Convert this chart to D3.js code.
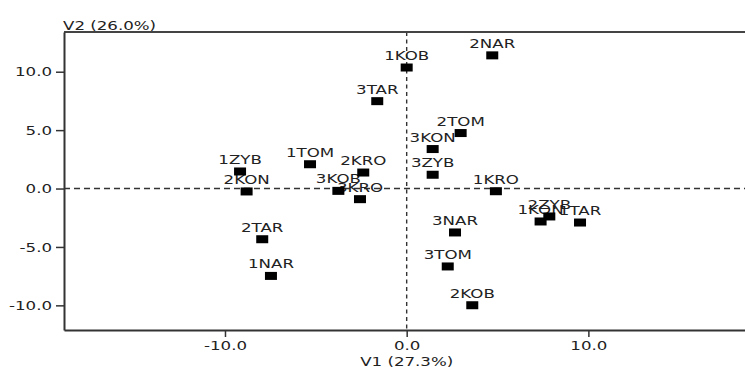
<!DOCTYPE html>
<html>
<head>
<meta charset="utf-8">
<script src="https://cdn.jsdelivr.net/npm/d3@7"></script>
<style>
  body { margin: 0; background: #fff; }
  text { font-family: "DejaVu Sans", sans-serif; font-size: 13px; fill: #222; }
</style>
</head>
<body>
<div id="chart"></div>
<script>
// DATA
const labels = ["1KOB", "2NAR", "3TAR", "2TOM", "3KON", "3ZYB", "1KRO", "1KON", "2ZYB", "1TAR",
                "3NAR", "3TOM", "2KOB", "1ZYB", "2KON", "1TOM", "2KRO", "3KOB", "3KRO", "2TAR", "1NAR"];
const v1 = [0.0, 4.71, -1.62, 2.97, 1.43, 1.43, 4.91, 7.37, 7.85, 9.54,
            2.66, 2.26, 3.61, -9.17, -8.81, -5.32, -2.39, -3.76, -2.57, -7.95, -7.47];
const v2 = [10.36, 11.40, 7.48, 4.75, 3.38, 1.18, -0.23, -2.82, -2.39, -2.91,
            -3.76, -6.67, -9.99, 1.46, -0.25, 2.08, 1.37, -0.20, -0.91, -4.34, -7.48];
const xTicks = [-10, 0, 10];
const yTicks = [-10, -5, 0, 5, 10];
const xTitle = "V1 (27.3%)";
const yTitle = "V2 (26.0%)";

const W = 745, H = 367;
const plot = { left: 64, right: 745, top: 32, bottom: 330 };
const sx = 1.28; // the original lettering is wide

const svg = d3.select("#chart")
    .append("svg")
    .attr("width", W)
    .attr("height", H);

// SCALES
const x = d3.scaleLinear()
    .domain([-18.86, 18.62])
    .range([plot.left, plot.right]);

const y = d3.scaleLinear()
    .domain([-12.11, 13.40])
    .range([plot.bottom, plot.top]);

// ZERO LINES
svg.append("line")
    .attr("x1", plot.left).attr("x2", plot.right)
    .attr("y1", y(0)).attr("y2", y(0))
    .attr("stroke", "#333").attr("stroke-width", 1.4)
    .attr("stroke-dasharray", "6,4");

svg.append("line")
    .attr("x1", x(0)).attr("x2", x(0))
    .attr("y1", plot.top).attr("y2", plot.bottom)
    .attr("stroke", "#333").attr("stroke-width", 1.4)
    .attr("stroke-dasharray", "4,3.5");

// TOP FRAME LINE
svg.append("line")
    .attr("x1", plot.left).attr("x2", plot.right)
    .attr("y1", plot.top).attr("y2", plot.top)
    .attr("stroke", "#444").attr("stroke-width", 2);

// X AXIS
const xAxis = svg.append("g")
    .attr("transform", `translate(0,${plot.bottom})`)
    .call(d3.axisBottom(x).tickValues(xTicks).tickFormat(d => d.toFixed(1))
        .tickSize(7).tickSizeOuter(0));

// Y AXIS
const yAxis = svg.append("g")
    .attr("transform", `translate(${plot.left},0)`)
    .call(d3.axisLeft(y).tickValues(yTicks).tickFormat(d => d.toFixed(1))
        .tickSize(8).tickSizeOuter(0));

[xAxis, yAxis].forEach(g => {
    g.attr("font-family", null).attr("font-size", null);
    g.select(".domain").attr("stroke", "#333").attr("stroke-width", 2);
    g.selectAll(".tick line").attr("stroke", "#333").attr("stroke-width", 1.5);
});

xAxis.selectAll("text")
    .attr("y", 11)
    .attr("transform", `scale(${sx},1)`);

yAxis.selectAll("text")
    .attr("x", -12 / sx)
    .attr("transform", `scale(${sx},1)`);

// AXIS TITLES
svg.append("text")
    .attr("transform", `translate(${x(0)},366) scale(${sx},1)`)
    .attr("text-anchor", "middle")
    .text(xTitle);

svg.append("text")
    .attr("transform", `translate(${plot.left - 1},29.5) scale(${sx},1)`)
    .text(yTitle);

// POINTS
const points = labels.map((name, i) => ({ name: name, v1: v1[i], v2: v2[i] }));

svg.selectAll("text.lab")
    .data(points)
    .enter()
    .append("text")
    .attr("class", "lab")
    .attr("text-anchor", "middle")
    .attr("transform", d => `translate(${x(d.v1)},${y(d.v2) - 7.5}) scale(${sx},1)`)
    .text(d => d.name);

svg.selectAll("rect.pt")
    .data(points)
    .enter()
    .append("rect")
    .attr("class", "pt")
    .attr("x", d => x(d.v1) - 6)
    .attr("y", d => y(d.v2) - 4)
    .attr("width", 12)
    .attr("height", 8)
    .attr("fill", "#000");
</script>
</body>
</html>
